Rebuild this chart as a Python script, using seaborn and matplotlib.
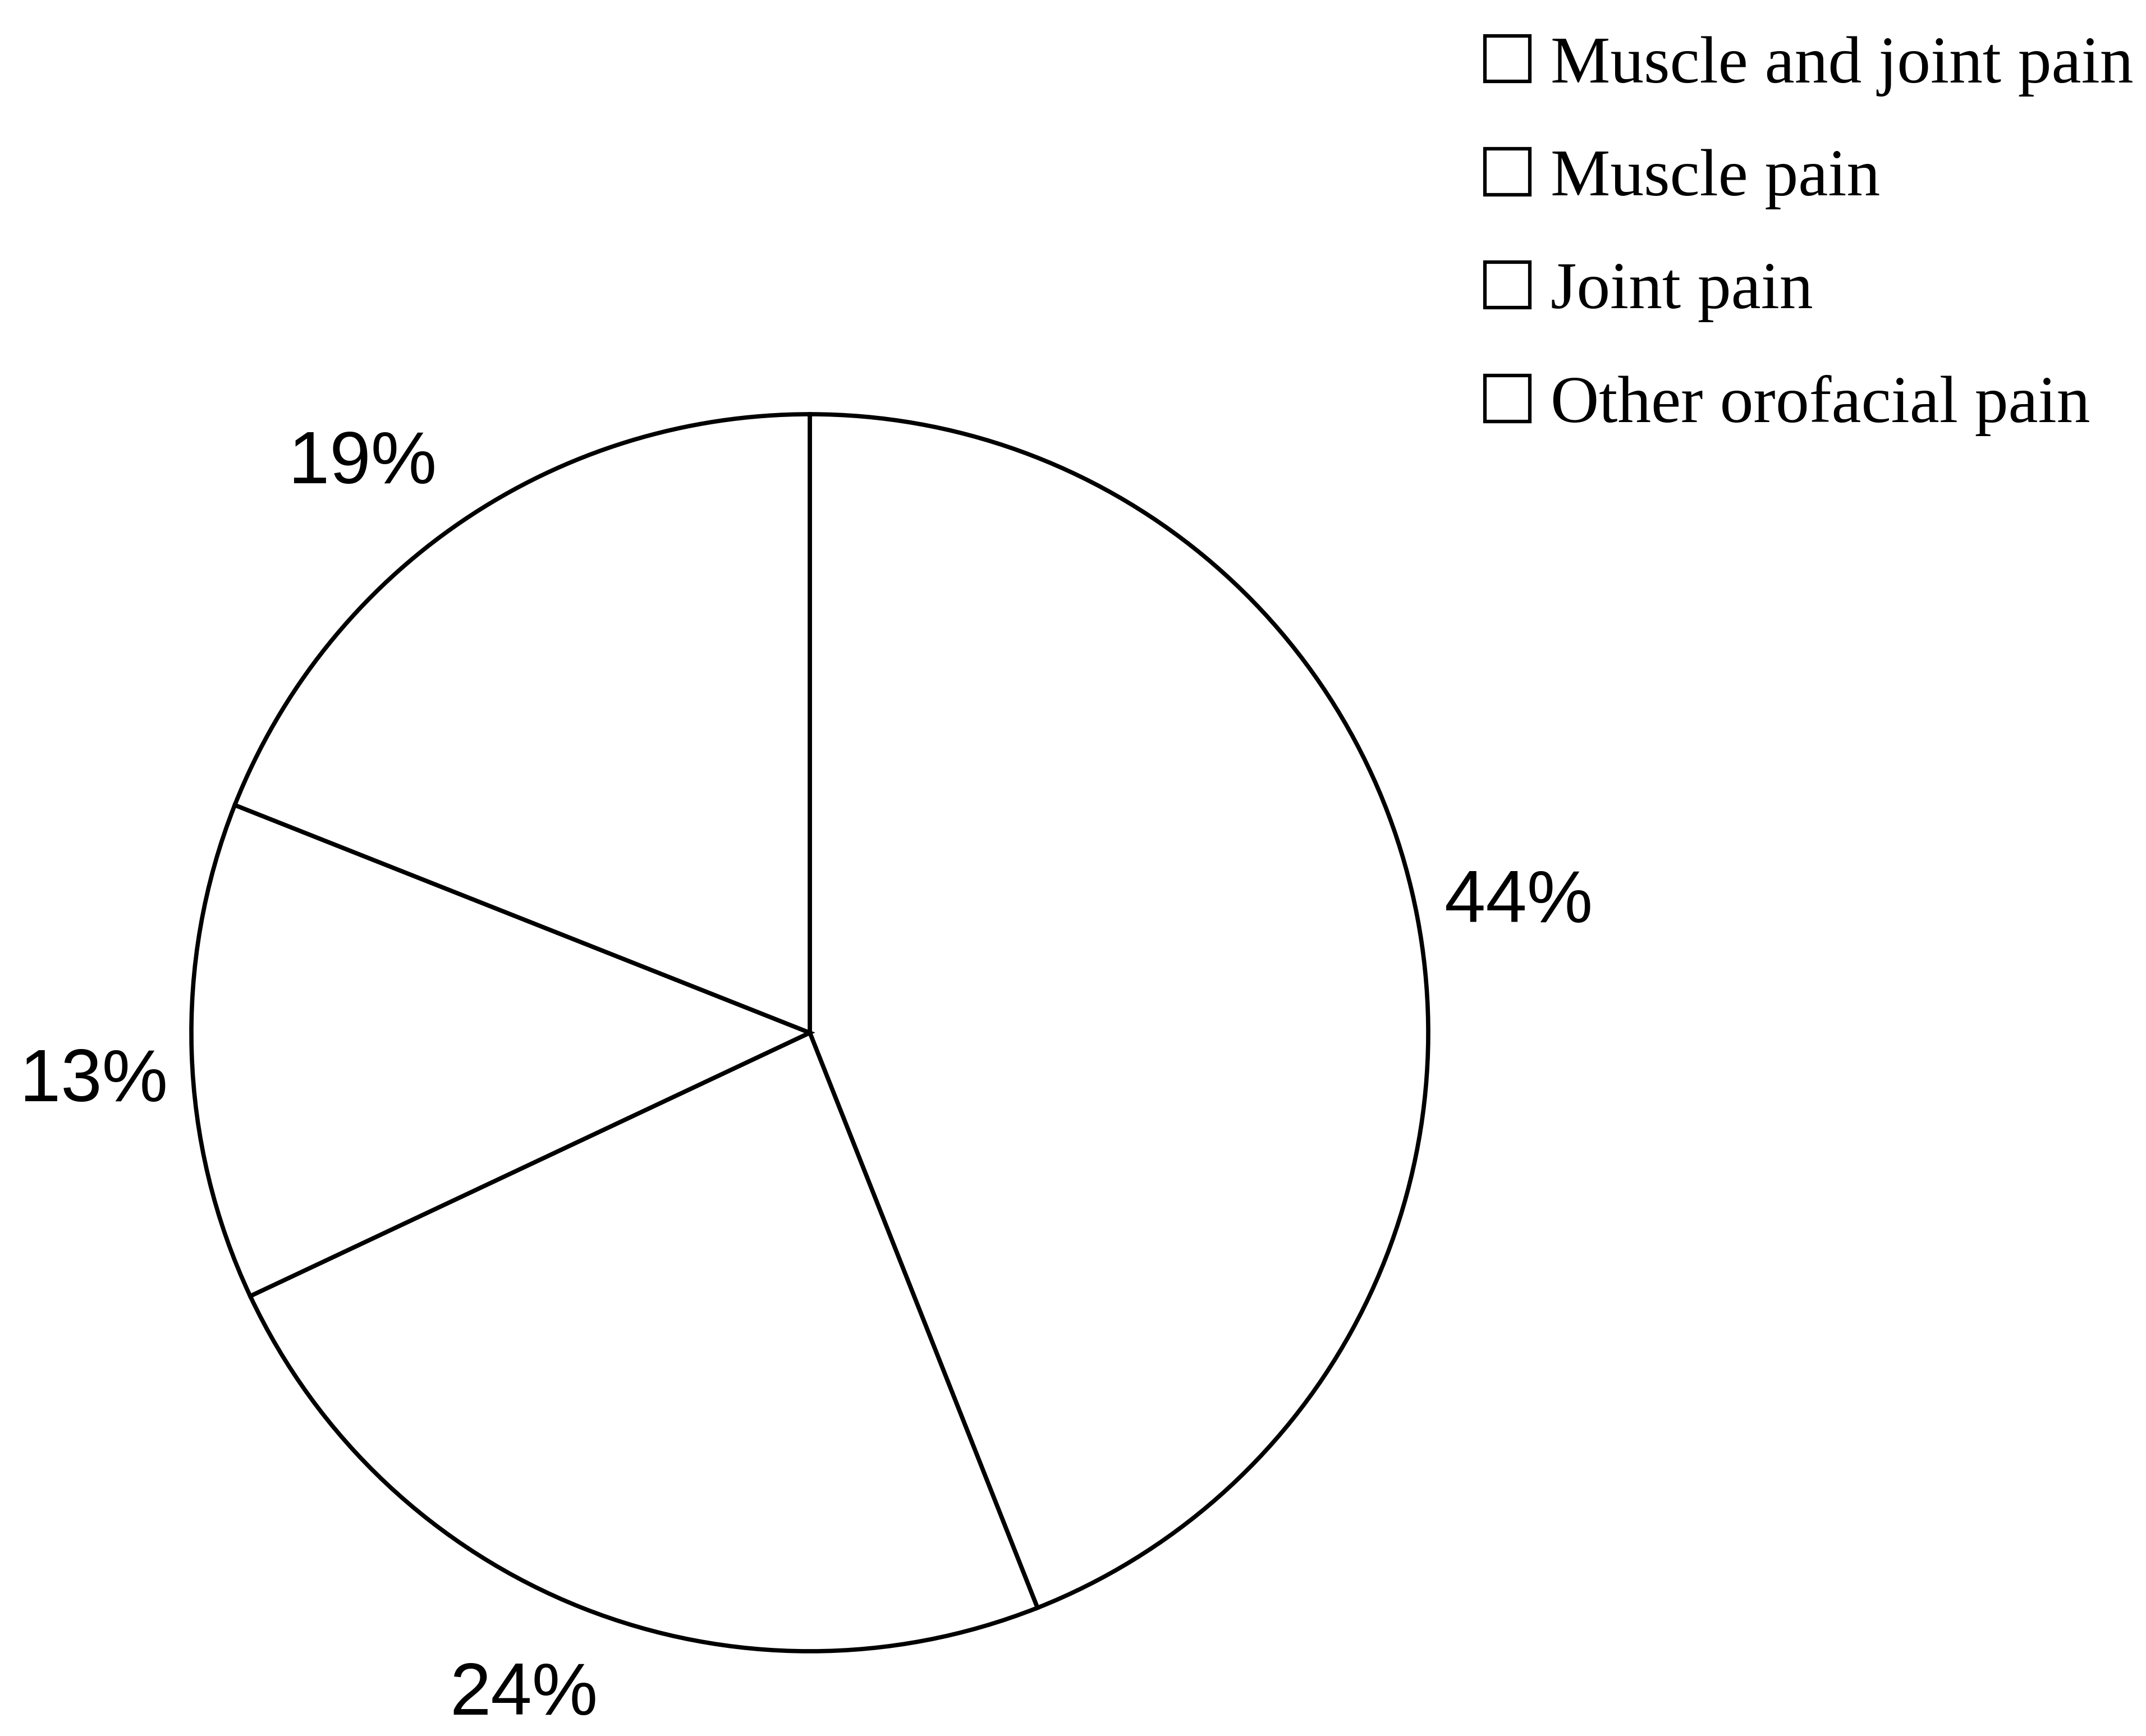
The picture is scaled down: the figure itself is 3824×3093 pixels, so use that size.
import matplotlib
matplotlib.use("Agg")
import numpy as np
import matplotlib.pyplot as plt
from matplotlib.patches import Patch
import seaborn as sns

# Distribution of pain diagnoses (percent of patients)
categories = ["Muscle and joint pain", "Muscle pain", "Joint pain", "Other orofacial pain"]
# Clockwise from 12 o'clock: 44%, 24%, 13%, 19%
slice_values = [44, 24, 13, 19]

# Percent-label placement around the rim: angular nudge (deg) and radial distance
label_angle_shift = [0.2, -2.0, 1.5, 3.6]
label_distance = [1.168, 1.155, 1.16, 1.18]

sns.set_theme(style="white")
plt.rcParams["font.family"] = ["Liberation Sans", "DejaVu Sans"]
plt.rcParams["text.color"] = "black"

W, H, DPI = 3824, 3093, 100
fig = plt.figure(figsize=(W / DPI, H / DPI), dpi=DPI, facecolor="white")

# Square axes holding the unit-radius pie
cx, cy, r = 1443, 1840, 1102
ax = fig.add_axes([(cx - r) / W, (H - cy - r) / H, 2 * r / W, 2 * r / H])

wedges, texts, autotexts = ax.pie(
    slice_values,
    colors=["white"] * len(slice_values),
    startangle=90,
    counterclock=False,
    autopct=lambda p: f"{p:.0f}%",
    pctdistance=1.17,
    wedgeprops=dict(edgecolor="black", linewidth=5.5),
    textprops=dict(fontsize=95, color="black", family=["Liberation Sans", "DejaVu Sans"]),
)

# Place each percentage just outside its wedge
for w, t, da, d in zip(wedges, autotexts, label_angle_shift, label_distance):
    mid = np.deg2rad((w.theta1 + w.theta2) / 2 + da)
    t.set_position((d * np.cos(mid), d * np.sin(mid) - 0.013))
    t.set_ha("center")
    t.set_va("center")

ax.set_xlim(-1, 1)
ax.set_ylim(-1, 1)
ax.set_aspect("equal")
ax.axis("off")

handles = [Patch(facecolor="white", edgecolor="black", linewidth=4.5) for _ in categories]
fig.legend(
    handles,
    categories,
    loc="upper left",
    bbox_to_anchor=(2646 / W, 1 - 64 / H),
    frameon=False,
    borderpad=0,
    borderaxespad=0,
    handlelength=0.67,
    handleheight=0.67,
    handletextpad=0.31,
    labelspacing=0.785,
    prop=dict(family=["Liberation Serif", "DejaVu Serif"], size=86),
)

fig.savefig("out.png", dpi=DPI, facecolor="white")
